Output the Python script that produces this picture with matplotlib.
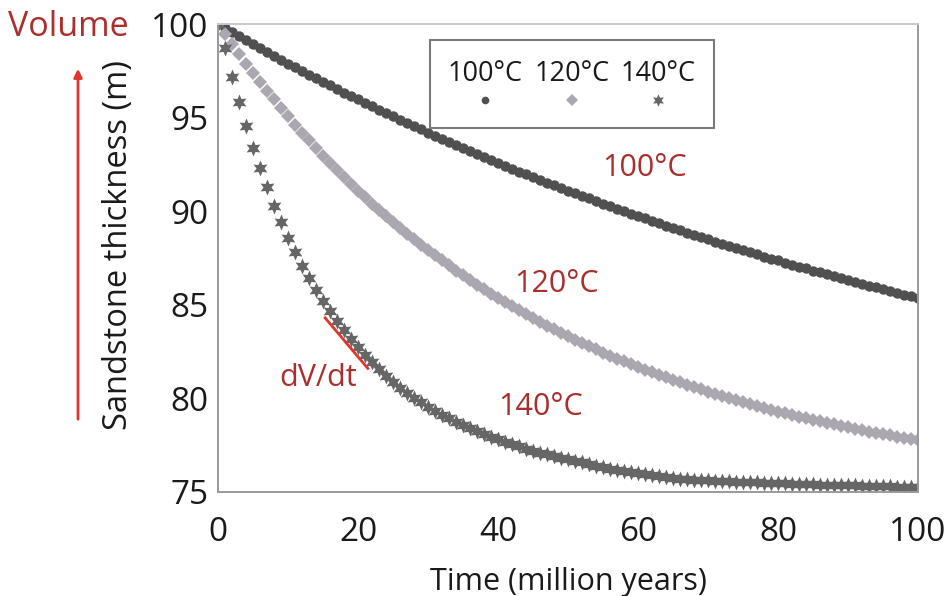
import numpy as np
import matplotlib
matplotlib.use("Agg")
import matplotlib.pyplot as plt
from matplotlib.patches import Rectangle

plt.rcParams["font.family"] = ["Open Sans", "DejaVu Sans"]

# time axis (million years), one point per year
years = list(range(0, 101))

# sandstone thickness (m), one value per year
thick_100 = [
    100.00, 99.78, 99.56, 99.35, 99.14, 98.92, 98.71, 98.51, 98.30, 98.10,
    97.89, 97.69, 97.49, 97.30, 97.10, 96.91, 96.72, 96.53, 96.34, 96.15,
    95.97, 95.78, 95.60, 95.42, 95.24, 95.06, 94.89, 94.71, 94.54, 94.37,
    94.20, 94.03, 93.86, 93.70, 93.54, 93.37, 93.21, 93.05, 92.89, 92.74,
    92.58, 92.43, 92.28, 92.12, 91.97, 91.83, 91.68, 91.53, 91.39, 91.24,
    91.10, 90.96, 90.82, 90.68, 90.54, 90.41, 90.27, 90.14, 90.01, 89.87,
    89.74, 89.62, 89.49, 89.36, 89.23, 89.11, 88.99, 88.86, 88.74, 88.62,
    88.50, 88.38, 88.27, 88.15, 88.04, 87.92, 87.81, 87.70, 87.58, 87.47,
    87.37, 87.26, 87.15, 87.04, 86.94, 86.83, 86.73, 86.63, 86.52, 86.42,
    86.32, 86.22, 86.13, 86.03, 85.93, 85.84, 85.74, 85.65, 85.55, 85.46,
    85.37,
]
thick_120 = [
    100.00, 99.46, 98.92, 98.40, 97.89, 97.40, 96.91, 96.43, 95.97, 95.51,
    95.06, 94.63, 94.20, 93.78, 93.37, 92.97, 92.58, 92.20, 91.83, 91.46,
    91.10, 90.75, 90.41, 90.07, 89.74, 89.42, 89.11, 88.80, 88.50, 88.21,
    87.92, 87.64, 87.37, 87.10, 86.83, 86.58, 86.32, 86.08, 85.84, 85.60,
    85.37, 85.14, 84.92, 84.71, 84.50, 84.29, 84.09, 83.89, 83.70, 83.51,
    83.32, 83.14, 82.96, 82.79, 82.62, 82.45, 82.29, 82.13, 81.98, 81.83,
    81.68, 81.53, 81.39, 81.25, 81.12, 80.98, 80.85, 80.73, 80.60, 80.48,
    80.36, 80.24, 80.13, 80.02, 79.91, 79.80, 79.70, 79.59, 79.49, 79.40,
    79.30, 79.21, 79.12, 79.03, 78.94, 78.85, 78.77, 78.69, 78.61, 78.53,
    78.45, 78.38, 78.30, 78.23, 78.16, 78.09, 78.02, 77.96, 77.89, 77.83,
    77.77,
]
thick_140 = [
    100.00, 98.70, 97.18, 95.81, 94.55, 93.40, 92.30, 91.27, 90.30, 89.40,
    88.57, 87.80, 87.08, 86.42, 85.80, 85.22, 84.67, 84.15, 83.66, 83.20,
    82.76, 82.34, 81.95, 81.58, 81.22, 80.89, 80.57, 80.27, 80.02, 79.79,
    79.56, 79.35, 79.14, 78.95, 78.76, 78.59, 78.42, 78.26, 78.11, 77.96,
    77.82, 77.69, 77.56, 77.44, 77.32, 77.21, 77.11, 77.01, 76.91, 76.82,
    76.74, 76.65, 76.58, 76.49, 76.41, 76.33, 76.25, 76.18, 76.12, 76.05,
    75.99, 75.94, 75.89, 75.84, 75.79, 75.74, 75.70, 75.68, 75.66, 75.64,
    75.63, 75.61, 75.59, 75.58, 75.56, 75.54, 75.53, 75.51, 75.50, 75.49,
    75.47, 75.46, 75.45, 75.43, 75.42, 75.41, 75.40, 75.39, 75.38, 75.37,
    75.36, 75.35, 75.34, 75.33, 75.32, 75.31, 75.30, 75.29, 75.29, 75.28,
    75.27,
]

labels = ["100°C", "120°C", "140°C"]
x_ticks = [0, 20, 40, 60, 80, 100]
y_ticks = [75, 80, 85, 90, 95, 100]

dark_red = "#a8302e"
bright_red = "#e0352b"

fig = plt.figure(figsize=(9.48, 5.96), dpi=100)
ax = fig.add_axes([0.230, 0.1745, 0.7385, 0.7852])

styles = [
    dict(marker="o", color="#505050", markersize=7.5),
    dict(marker="D", color="#aaa7b0", markersize=7.5),
    dict(marker=(6, 1, 0), color="#666666", markersize=11.5),
]
series = [thick_100, thick_120, thick_140]
for vals, st in zip(series, styles):
    ax.plot(years, vals, linestyle="none", markeredgewidth=0, **st)

ax.set_xlim(0, 100)
ax.set_ylim(75, 100)
ax.set_xticks(x_ticks)
ax.set_yticks(y_ticks)
ax.tick_params(axis="both", length=0, labelsize=24, colors="#1a1a1a")
ax.tick_params(axis="x", pad=17)
ax.tick_params(axis="y", pad=7)
for sp in ax.spines.values():
    sp.set_color("#9a9a9a")
    sp.set_linewidth(1.4)
ax.spines["top"].set_color("#c8c8c8")

ax.set_xlabel("Time (million years)", fontsize=22, color="#1a1a1a", labelpad=13)
ax.set_ylabel("Sandstone thickness (m)", fontsize=23.5, color="#1a1a1a")
ax.yaxis.set_label_coords(-0.118, 0.528)

# hand-made legend: labels above the markers
ax.add_patch(Rectangle((0.303, 0.778), 0.406, 0.188, transform=ax.transAxes,
                       fill=False, edgecolor="#7a7a7a", linewidth=1.5, zorder=5))
leg_x = [0.381, 0.506, 0.629]
leg_sizes = [5.5, 6, 9]
for lx, lab, st, ms in zip(leg_x, labels, styles, leg_sizes):
    ax.text(lx, 0.893, lab, transform=ax.transAxes, ha="center", va="center",
            fontsize=19.5, color="#1a1a1a", zorder=6)
    ax.plot([lx], [0.838], transform=ax.transAxes, linestyle="none",
            markeredgewidth=0, zorder=6, marker=st["marker"], color=st["color"],
            markersize=ms)

# curve labels
ax.text(60.9, 92.3, "100°C", ha="center", va="center", fontsize=22, color=dark_red)
ax.text(48.4, 86.1, "120°C", ha="center", va="center", fontsize=22, color=dark_red)
ax.text(46.0, 79.55, "140°C", ha="center", va="center", fontsize=22, color=dark_red)
ax.text(14.3, 81.1, "dV/dt", ha="center", va="center", fontsize=22, color=dark_red)
ax.plot([15.3, 21.4], [84.3, 81.6], color=bright_red, linewidth=2, zorder=4)

# volume arrow on the left
fig.text(68 / 948, 1 - 27 / 596, "Volume", ha="center", va="center",
         fontsize=24.5, color=dark_red)
fig.add_artist(matplotlib.patches.FancyArrowPatch(
    (78 / 948, 1 - 422 / 596), (78 / 948, 1 - 66 / 596),
    transform=fig.transFigure, arrowstyle="-|>", mutation_scale=12,
    color=bright_red, linewidth=2))

fig.savefig("out.png", dpi=100)
